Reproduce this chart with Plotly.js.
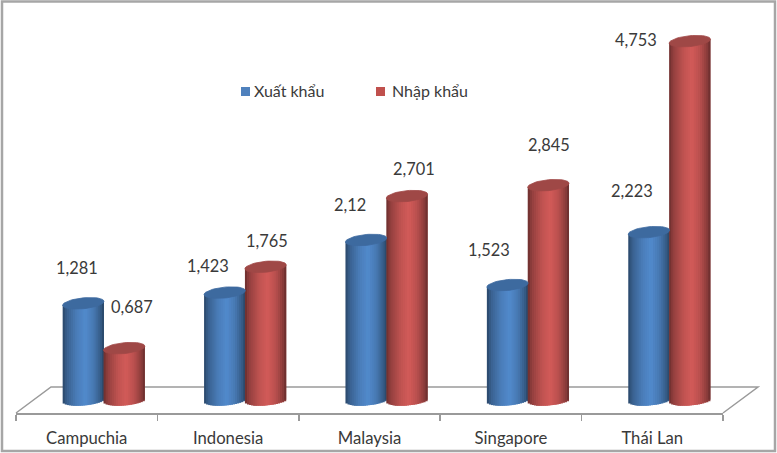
<!DOCTYPE html>
<html><head><meta charset="utf-8">
<script src="https://cdn.plot.ly/plotly-3.0.1.min.js"></script>
<style>html,body{margin:0;padding:0;background:#fff}</style></head>
<body><div id="chart" style="width:777px;height:453px"></div>
<script>
const categories = ["Campuchia","Indonesia","Malaysia","Singapore","Thái Lan"];
const seriesNames = ["Xuất khẩu","Nhập khẩu"];
const xuatKhau = [1.281,1.423,2.12,1.523,2.223];
const nhapKhau = [0.687,1.765,2.701,2.845,4.753];
const xuatLabels = ["1,281","1,423","2,12","1,523","2,223"];
const nhapLabels = ["0,687","1,765","2,701","2,845","4,753"];
// label offsets from each cylinder top, in px (hand-placed in the original)
const xuatDx = [-6,-17,-16,-19,-17], xuatDy = [36,27,35,36,42];
const nhapDx = [8,1,7,1,-54], nhapDy = [42,26,28,41,2];

const FONT = "Lato, 'Open Sans', sans-serif", TXT = "#3a3a3a";
const W = 0.292, SEMI = 0.072, TILT = 0.026, STRIPS = 20;
const shade = [[0,0.52],[0.10,0.72],[0.35,0.94],[0.55,1.03],[0.75,0.90],[0.92,0.68],[1,0.50]];
function colAt(rgb,f){
  let k=shade[shade.length-1][1];
  for(let i=1;i<shade.length;i++) if(f<=shade[i][0]){
    const a=shade[i-1],b=shade[i]; k=a[1]+(b[1]-a[1])*(f-a[0])/(b[0]-a[0]); break;}
  return "rgb("+rgb.map(c=>Math.min(255,Math.round(c*k))).join(",")+")";
}
const traces=[];
function cylinder(name,vals,off,rgb,topCol){
  for(let s=0;s<STRIPS;s++){
    const f0=s/STRIPS, f=(s+0.5)/STRIPS, t=2*f-1, e=Math.sqrt(1-t*t);
    const baseVal=-SEMI*e+TILT*t;
    const wd=(s===STRIPS-1?1:2)*W/STRIPS;
    traces.push({type:"bar",name:name,x:vals.map((_,i)=>i+off-W/2+f0*W),
      y:vals.map(v=>v+TILT*t-baseVal),base:vals.map(()=>baseVal),
      width:wd,offset:0,marker:{color:colAt(rgb,f),line:{width:0}},
      hoverinfo:"skip",showlegend:false,cliponaxis:false});
  }
  vals.forEach((v,i)=>{
    const xs=[],ys=[];
    for(let a=0;a<=48;a++){const th=a/48*2*Math.PI,c=Math.cos(th),sn=Math.sin(th);
      xs.push(i+off+c*W/2); ys.push(v+sn*SEMI+TILT*c);}
    traces.push({type:"scatter",mode:"lines",x:xs,y:ys,fill:"toself",fillcolor:topCol,
      line:{width:0.8,color:topCol},hoverinfo:"skip",showlegend:false});
  });
}
const BLUE_OFF=-0.024, RED_OFF=0.265;
cylinder(seriesNames[0],xuatKhau,BLUE_OFF,[79,134,198],"#3d6a9f");
cylinder(seriesNames[1],nhapKhau,RED_OFF,[204,88,86],"#9f4846");

const ann=[];
function labels(txt,vals,off,dx,dy){vals.forEach((v,i)=>ann.push({x:i+off,y:v,text:txt[i],showarrow:false,
  xshift:dx[i],yshift:dy[i],font:{family:FONT,size:16.4,color:TXT}}));}
labels(xuatLabels,xuatKhau,BLUE_OFF,xuatDx,xuatDy);
labels(nhapLabels,nhapKhau,RED_OFF,nhapDx,nhapDy);
// legend text (pixel-placed to match the reference)
const px=v=>(v-16)/707, py=v=>(413-v)/413;
ann.push({xref:"paper",yref:"paper",x:px(252),y:py(91),xanchor:"left",yanchor:"middle",showarrow:false,
  text:seriesNames[0],font:{family:FONT,size:16,color:TXT}});
ann.push({xref:"paper",yref:"paper",x:px(390),y:py(91),xanchor:"left",yanchor:"middle",showarrow:false,
  text:seriesNames[1],font:{family:FONT,size:16,color:TXT}});

const layout={
  width:777,height:453,margin:{l:16,r:54,t:0,b:40},
  paper_bgcolor:"#fff",plot_bgcolor:"rgba(0,0,0,0)",barmode:"overlay",showlegend:false,
  xaxis:{type:"linear",range:[-0.5,4.5],tickmode:"array",tickvals:[0,1,2,3,4],ticktext:categories,
    ticks:"",showgrid:false,zeroline:false,showline:true,linecolor:"#9a9a9a",linewidth:1.5,
    ticklabelstandoff:9,tickfont:{family:FONT,size:16.7,color:TXT},
    minor:{tickmode:"linear",tick0:-0.5,dtick:1,ticks:"outside",ticklen:6,tickcolor:"#9a9a9a",tickwidth:1.5,showgrid:false}},
  yaxis:{range:[-0.172,5.298],visible:false,fixedrange:true},
  annotations:ann,
  shapes:[
    {type:"rect",xref:"paper",yref:"paper",x0:px(2),x1:px(775),y0:py(451),y1:py(1.5),layer:"below",
     line:{color:"#a6a6a6",width:2.5},fillcolor:"rgba(0,0,0,0)"},
    {type:"path",xref:"paper",yref:"paper",layer:"below",
     path:`M ${px(16)},${py(413)} L ${px(51)},${py(387)} L ${px(758)},${py(387)} L ${px(723)},${py(413)}`,
     line:{color:"#9a9a9a",width:1.5}},
    {type:"rect",xref:"paper",yref:"paper",x0:px(241),x1:px(250),y0:py(96),y1:py(87),line:{width:0},fillcolor:"#4f81bd"},
    {type:"rect",xref:"paper",yref:"paper",x0:px(376),x1:px(385),y0:py(96),y1:py(87),line:{width:0},fillcolor:"#c0504d"}
  ]
};
Plotly.newPlot("chart",traces,layout,{displayModeBar:false,staticPlot:true});
</script></body></html>
